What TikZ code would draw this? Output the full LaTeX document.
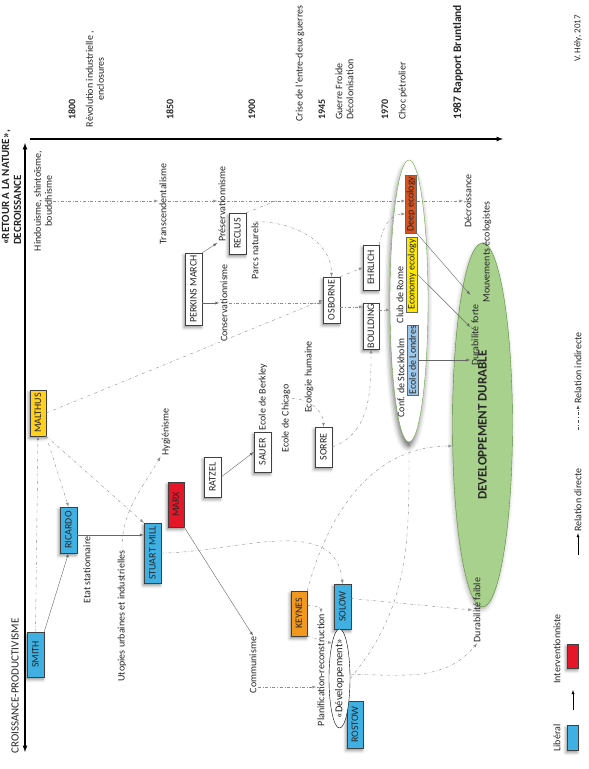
\documentclass[tikz,border=0pt]{standalone}
\usepackage{fontspec}
\setmainfont{Carlito}
\usepackage{xcolor}
\usetikzlibrary{positioning,arrows,shapes.geometric,shadows.blur}

\definecolor{libblue}{RGB}{64,176,226}
\definecolor{intred}{RGB}{228,22,40}
\definecolor{malyellow}{RGB}{255,208,28}
\definecolor{keyorange}{RGB}{241,152,30}
\definecolor{ddgreen}{RGB}{169,209,142}
\definecolor{ellgreen}{RGB}{112,173,71}
\definecolor{deeporange}{RGB}{214,84,32}
\definecolor{ecoyellow}{RGB}{255,232,0}
\definecolor{londblue}{RGB}{157,200,235}

\tikzset{
  every node/.style={rotate=90,inner sep=1pt,text=black!85,font=\fontsize{10}{11}\selectfont},
  yearlbl/.style={anchor=west,font=\fontsize{10}{11}\selectfont\bfseries},
  datelbl/.style={anchor=west},
  penseur/.style={draw=black!75,fill=white,minimum height=17pt,
    blur shadow={shadow xshift=-1pt,shadow yshift=-2.5pt,shadow blur radius=3pt,shadow opacity=45}},
  ecolebox/.style={draw=black!60,minimum height=11pt,inner sep=0.5pt},
  direct/.style={draw=black!60,-latex},
  indirect/.style={draw=black!45,dash dot,-latex},
}

\begin{document}
\begin{tikzpicture}[x=1pt,y=1pt]
    \useasboundingbox (0,0) rectangle (589,-769);
    \coordinate (axtop) at (25,-143);
    \coordinate (axbot) at (25,-752);
    \coordinate (axleft) at (30,-139);
    \coordinate (axright) at (503,-139);
    \draw[latex-latex,line width=1.2pt] (axtop) -- (axbot);
    \draw[-latex,line width=1.2pt] (axleft) -- (axright);

    \node[font=\fontsize{11}{12}\selectfont\bfseries,align=left] (retour) at (11.5,-187.5) {«RETOUR A LA NATURE»,\\DECROISSANCE};
    \node[font=\fontsize{11}{12}\selectfont] (croissance) at (15,-686) {CROISSANCE-PRODUCTIVISME};

    \node[yearlbl] (y1800) at (72,-121) {1800};
    \node[align=center] (revol) at (95,-79) {Révolution industrielle ,\\enclosures};
    \node[yearlbl] (y1850) at (170,-121) {1850};
    \node[yearlbl] (y1900) at (252,-121) {1900};
    \node[datelbl] (crise) at (300,-123) {Crise de l'entre-deux guerres};
    \node[yearlbl] (y1945) at (322,-121) {1945};
    \node[datelbl] (guerre) at (339,-121) {Guerre Froide};
    \node[datelbl] (decolo) at (350,-121) {Décolonisation};
    \node[yearlbl] (y1970) at (385,-121) {1970};
    \node[datelbl] (choc) at (403,-121) {Choc pétrolier};
    \node[yearlbl,font=\fontsize{11.5}{12}\selectfont\bfseries] (bruntland) at (458,-121) {1987 Rapport Bruntland};
    \node[datelbl,font=\fontsize{9}{10}\selectfont] (hely) at (578,-63) {V. Hély, 2017};

    \node[ellipse,draw=ellgreen!80!black,fill=ddgreen,minimum width=364pt,minimum height=60pt,
      blur shadow={shadow xshift=-1pt,shadow yshift=-3pt,shadow blur radius=4pt,shadow opacity=30},
      font=\fontsize{13}{14}\selectfont\bfseries] (dd) at (482.5,-425) {DEVELOPPEMENT DURABLE};
    \node[ellipse,draw=ellgreen,fill=white,minimum width=282pt,minimum height=38pt,
      blur shadow={shadow xshift=-1pt,shadow yshift=-5pt,shadow blur radius=5pt,shadow opacity=55}] (confell) at (409,-301) {};

    \node[penseur,fill=libblue,minimum width=45pt] (smith) at (35.5,-654.5) {SMITH};
    \node[penseur,fill=libblue,minimum width=46pt] (ricardo) at (68.5,-530) {RICARDO};
    \node[penseur,fill=malyellow,minimum width=46pt,minimum height=16pt] (malthus) at (38,-413) {MALTHUS};
    \node[penseur,fill=libblue,minimum width=60pt] (mill) at (152.5,-553) {STUART MILL};
    \node[penseur,fill=intred,minimum width=45pt,minimum height=16pt] (marx) at (176,-504.5) {MARX};
    \node[penseur,minimum width=40pt] (ratzel) at (212.5,-477) {RATZEL};
    \node[penseur,minimum width=40pt] (sauer) at (262.5,-452) {SAUER};
    \node[penseur,minimum width=40pt] (sorre) at (323.5,-447) {SORRE};
    \node[penseur,minimum width=72pt] (perkins) at (193.5,-289) {PERKINS MARCH};
    \node[penseur,minimum width=41pt] (reclus) at (237.5,-233.5) {RECLUS};
    \node[penseur,minimum width=46pt] (osborne) at (331.5,-300) {OSBORNE};
    \node[penseur,minimum width=45pt,minimum height=16pt] (ehrlich) at (371,-267.5) {EHRLICH};
    \node[penseur,minimum width=46pt,minimum height=16pt] (boulding) at (371,-326) {BOULDING};
    \node[penseur,fill=keyorange,minimum width=45pt,minimum height=16pt] (keynes) at (299,-613.5) {KEYNES};
    \node[penseur,fill=libblue,minimum width=45pt] (solow) at (342.5,-606.5) {SOLOW};
    \node[penseur,fill=libblue,minimum width=47pt,minimum height=16pt] (rostow) at (355,-724.5) {ROSTOW};
    \node[ellipse,draw=black,fill=white,inner xsep=-12pt,inner ysep=0pt,minimum width=99pt,minimum height=21pt,
      font=\fontsize{10.5}{12}\selectfont] (dev) at (339.5,-678.5) {«Développement»};

    \node[ecolebox,fill=deeporange,minimum width=58pt] (deep) at (411,-204) {Deep ecology};
    \node[ecolebox,fill=ecoyellow,minimum width=75pt] (economy) at (412,-274.5) {Economy ecology};
    \node[ecolebox,fill=londblue,minimum width=70pt] (londres) at (412.5,-360) {Ecole de Londres};

    \node[align=center] (hindou) at (43,-201) {Hindouisme, shintoïsme,\\bouddhisme};
    \node (transc) at (163,-204) {Transcendentalisme};
    \node (preserv) at (222,-204) {Préservationnisme};
    \node (conserv) at (224,-303) {Conservationnisme};
    \node (parcs) at (255,-251) {Parcs naturels};
    \node (hygien) at (166,-432) {Hygiénisme};
    \node (etat) at (87,-570) {Etat stationnaire};
    \node (utopies) at (122,-616) {Utopies urbaines et industrielles};
    \node (communisme) at (253,-665) {Communisme};
    \node (berkley) at (263,-397) {Ecole de Berkley};
    \node (chicago) at (286,-418.5) {Ecole de Chicago};
    \node (ecologie) at (309,-377) {Ecologie humaine};
    \node (clubrome) at (400,-295) {Club de Rome};
    \node (stockholm) at (401,-378) {Conf. de Stockholm};
    \node (decroiss) at (468,-201) {Décroissance};
    \node (mouvements) at (487,-252) {Mouvements écologistes};
    \node (forte) at (475,-335) {Durabilité forte};
    \node (faible) at (477,-610) {Durabilité faible};
    \node (planif) at (321,-670) {Planification-reconstruction};

    \coordinate (ricout) at ([yshift=-5pt]ricardo.south);
    \coordinate (osbout) at ([yshift=-7pt]osborne.south);
    \coordinate (boulout) at ([yshift=16pt]boulding.south);
    \coordinate (chicout) at ([yshift=20pt]chicago.south);
    \coordinate (comout) at ([yshift=-22pt]communisme.south);
    \coordinate (keyout) at ([yshift=8pt]keynes.south);
    \coordinate (devout) at ([yshift=4pt]dev.south);
    \coordinate (solout) at ([yshift=8pt]solow.south);
    \coordinate (ddin) at ([yshift=-21pt]dd.north);

    \draw[direct] (smith.south east) -- (ricardo.west);
    \draw[direct] (ricout) -- (ricout -| mill.north);
    \draw[direct] (marx.south west) -- (communisme.east);
    \draw[direct] (ratzel.south) -- (sauer.north);
    \draw[direct] (perkins.south east) -- (preserv.north west);
    \draw[direct] (perkins.south |- conserv.north) -- (conserv.north);
    \draw[direct] (deep.south west) -- ([yshift=8pt]forte.north east);
    \draw[direct] (economy.south) -- ([yshift=8pt]forte.north);
    \draw[direct] (londres.south) -- (londres.south -| forte.north);

    \draw[indirect] (smith.east) -- (malthus.west);
    \draw[indirect] (malthus.south west) -- (ricardo.east);
    \draw[indirect] (malthus.south west) -- (mill.north east);
    \draw[indirect] (malthus.south) -- (osborne.north);
    \draw[indirect] (hindou.south) -- (hindou.south -| transc.north);
    \draw[indirect] (transc.south |- hindou.south) -- (preserv.north |- hindou.south);
    \draw[indirect] (preserv.south |- hindou.south) -- (deep.north |- hindou.south);
    \draw[indirect] (deep.south |- hindou.south) -- (decroiss.north);
    \draw[draw=black!45,dash dot] (reclus.south east) -- ++(30,12);
    \draw[indirect] (conserv.south) -- (conserv.south -| osborne.north);
    \draw[indirect] (parcs.east) to[out=0,in=90] (osborne.east);
    \draw[indirect] (osborne.south east) -- (ehrlich.north);
    \draw[indirect] (osbout) -- (osbout -| boulding.north);
    \draw[indirect] (boulout) -- (boulout -| confell.north);
    \draw[indirect] (ehrlich.south east) to[out=80,in=180] ([yshift=-10pt]deep.north);
    \draw[indirect] (sorre.south) to[out=20,in=-90] (boulding.west);
    \draw[indirect] (chicout) to[out=0,in=90] (sorre.east);
    \draw[indirect] (utopies.east) to[out=90,in=-120] (hygien.north west);
    \draw[indirect] (mill.south) to[out=0,in=95] (solow.east);
    \draw[indirect] (comout) -- (comout -| planif.north);
    \draw[indirect] (keyout) to[out=0,in=90] (planif.east);
    \draw[indirect] (keynes.south west) -- (dev.north east);
    \draw[indirect] (keynes.south east) to[out=75,in=180] (ddin);
    \draw[indirect] (dev.south) to[out=50,in=-90] (confell.west);
    \draw[indirect] (devout) to[out=0,in=-130] (faible.west);
    \draw[indirect] (solout) -- (faible.north);

    \node[penseur,fill=libblue,minimum width=25pt,minimum height=11pt] (legLib) at (572.5,-737.5) {};
    \node (legLibTxt) at (557,-738) {Libéral};
    \node[penseur,fill=intred,minimum width=24pt,minimum height=11pt] (legInt) at (572.5,-656) {};
    \node (legIntTxt) at (557,-649) {Interventionniste};
    \coordinate (legA) at (573,-710);
    \coordinate (legB) at (573,-690);
    \draw[-latex,black] (legA) -- (legB);
    \node (reldir) at (578,-500) {Relation directe};
    \coordinate (legC) at (578,-555);
    \draw[-latex,black] (legC) -- (reldir.west);
    \node (relind) at (578,-368) {Relation indirecte};
    \coordinate (legD) at (578,-430);
    \draw[indirect,black!70] (legD) -- (relind.west);
  \end{tikzpicture}
\end{document}
